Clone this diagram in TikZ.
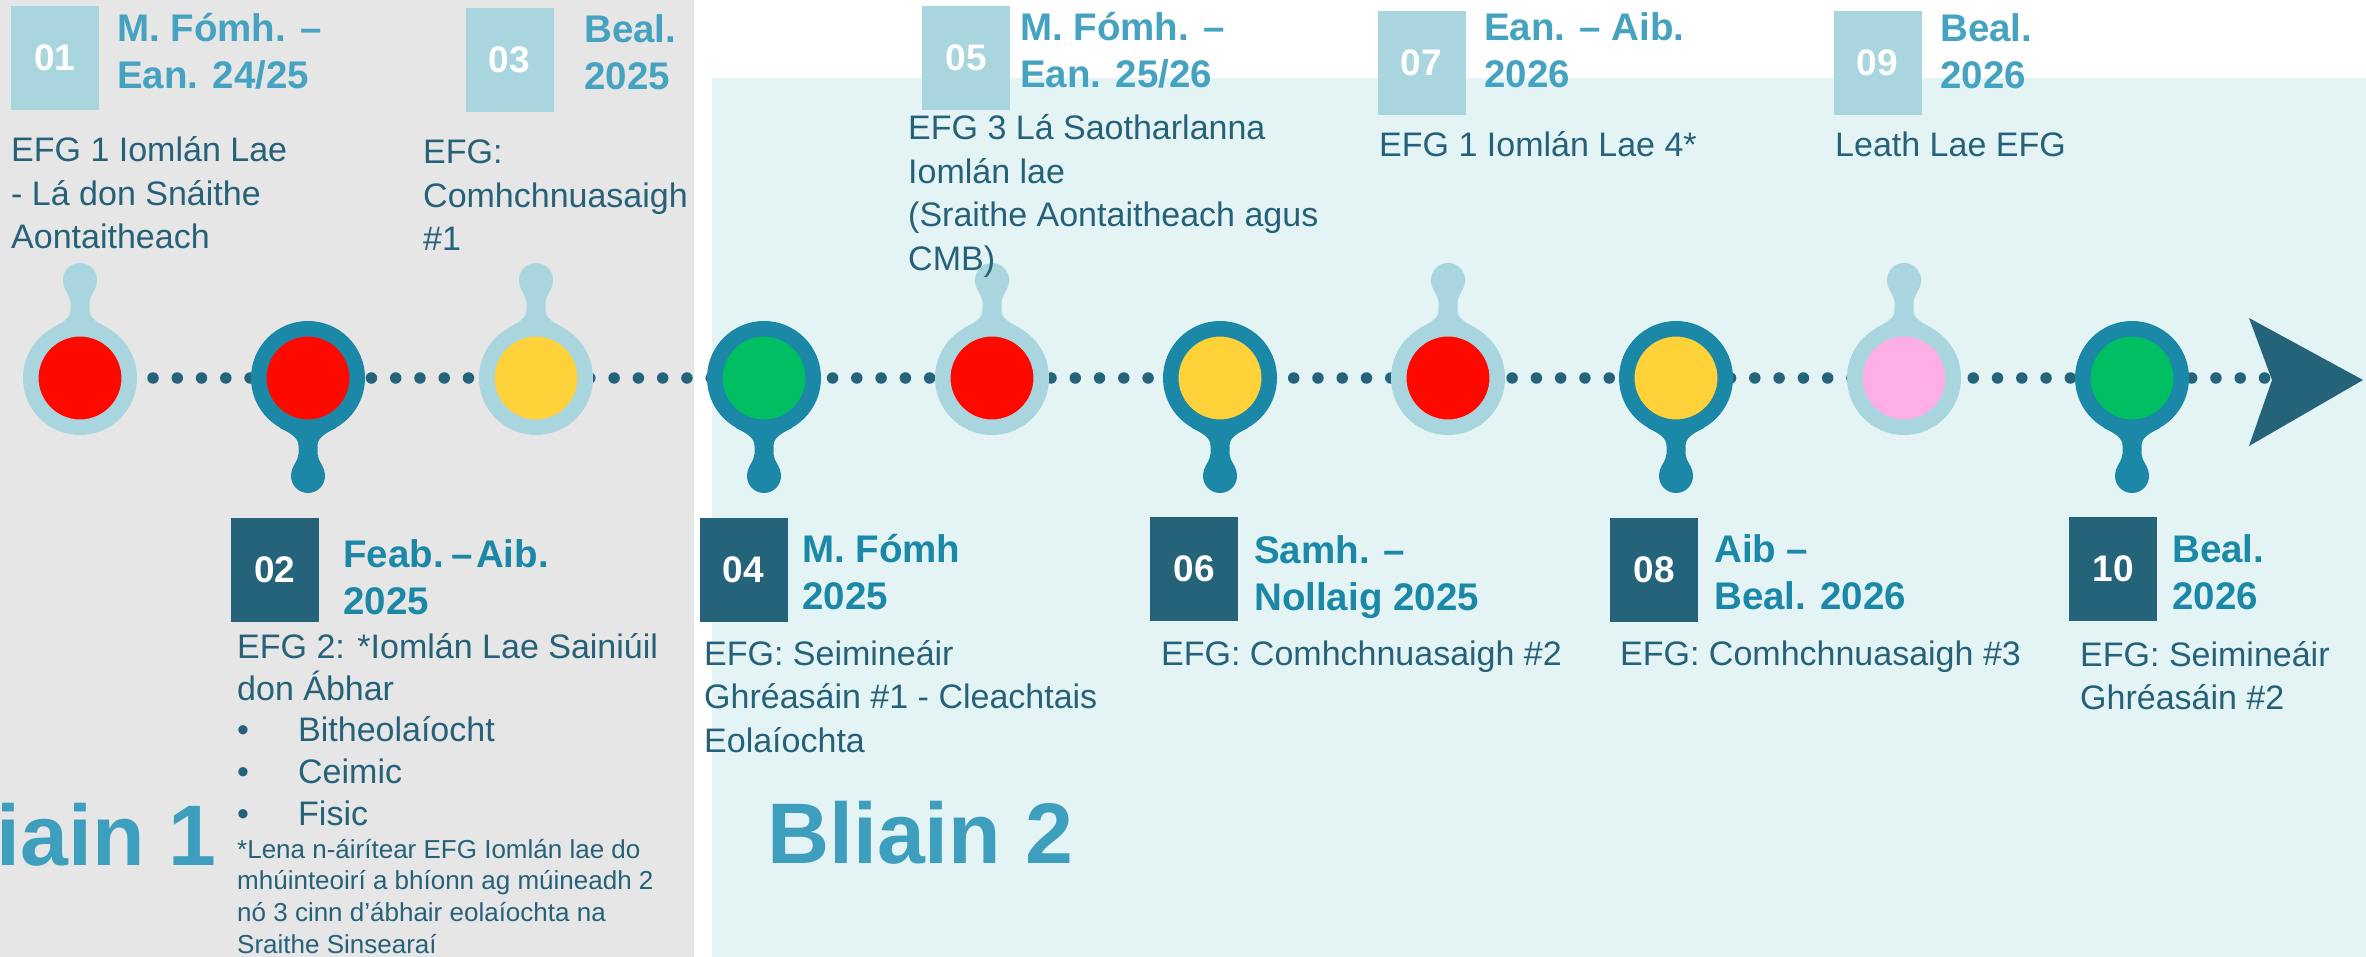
\documentclass[tikz,border=0pt]{standalone}
\usepackage{fontspec}
\setmainfont{Liberation Sans}
\definecolor{graybg}{HTML}{E6E6E6}
\definecolor{tealbg}{HTML}{E4F4F5}
\definecolor{lightc}{HTML}{A8D5DE}
\definecolor{ringc}{HTML}{1B88A8}
\definecolor{navyc}{HTML}{24637A}
\definecolor{toptitle}{HTML}{45A2C0}
\definecolor{bodyc}{HTML}{26617A}
\definecolor{bigc}{HTML}{3E9EBD}
\definecolor{redc}{HTML}{FF0800}
\definecolor{yellowc}{HTML}{FFD23A}
\definecolor{greenc}{HTML}{00BF63}
\definecolor{pinkc}{HTML}{FDAEE4}
\newcommand{\ml}[1]{\begin{tabular}[t]{@{}l@{}}#1\end{tabular}}
\newcommand{\pinstem}[3]{\fill[#3,shift={(#1,378)},yscale=#2] (-28,50) .. controls (-16,56) and (-9.5,60) .. (-9.5,68) -- (-9.5,76) .. controls (-9.5,83) and (-17,88) .. (-17,98) arc[start angle=180,end angle=0,radius=17] .. controls (17,88) and (9.5,83) .. (9.5,76) -- (9.5,68) .. controls (9.5,60) and (16,56) .. (28,50) -- cycle;}
\tikzset{
 pinnode/.style={circle, minimum size=98.5pt, inner sep=0pt, line width=15.5pt},
 numbox/.style={minimum width=88pt, minimum height=104pt, inner sep=0pt, text=white, font=\fontsize{37}{40}\selectfont\bfseries},
 lightbox/.style={numbox, fill=lightc},
 darkbox/.style={numbox, fill=navyc},
 ttl/.style={anchor=base west, inner sep=0pt, font=\fontsize{38.5}{47}\selectfont\bfseries},
 toptl/.style={ttl, text=toptitle},
 bottl/.style={ttl, text=ringc},
 body/.style={anchor=base west, inner sep=0pt, text=bodyc, font=\fontsize{34}{43.5}\selectfont},
 note/.style={anchor=base west, inner sep=0pt, text=bodyc, font=\fontsize{26}{31.7}\selectfont},
 big/.style={inner sep=0pt, text=bigc, font=\fontsize{86}{90}\selectfont\bfseries},
 dotline/.style={navyc, line width=11.5pt, line cap=round, dash pattern=on 0pt off 24.27pt},
}
\begin{document}
\begin{tikzpicture}[x=1pt,y=-1pt]
\useasboundingbox (0,0) rectangle (2366,957);
% backgrounds
\fill[white] (0,0) rectangle (2366,957);
\fill[graybg] (0,0) rectangle (694,957);
\fill[tealbg] (712,78) rectangle (2366,957);
% big year labels
\begin{scope}
\clip (0,0) rectangle (2366,957);
\node[big, anchor=base east] (y1) at (217,865) {Bliain 1};
\end{scope}
\node[big, anchor=base west] (y2) at (767,863) {Bliain 2};
% dotted timeline
\coordinate (dstart) at (153,378);
\coordinate (dend) at (2265,378);
\draw[dotline] (dstart) -- (dend);
\fill[navyc] (2249,318) -- (2363,380) -- (2249,446) -- (2272,380) -- cycle;
% stems
\pinstem{80}{-1}{lightc}
\pinstem{308}{1}{ringc}
\pinstem{536}{-1}{lightc}
\pinstem{764}{1}{ringc}
\pinstem{992}{-1}{lightc}
\pinstem{1220}{1}{ringc}
\pinstem{1448}{-1}{lightc}
\pinstem{1676}{1}{ringc}
\pinstem{1904}{-1}{lightc}
\pinstem{2132}{1}{ringc}
% circles
\node[pinnode, draw=lightc, fill=redc] (c1) at (80,378) {};
\node[pinnode, draw=ringc, fill=redc] (c2) at (308,378) {};
\node[pinnode, draw=lightc, fill=yellowc] (c3) at (536,378) {};
\node[pinnode, draw=ringc, fill=greenc] (c4) at (764,378) {};
\node[pinnode, draw=lightc, fill=redc] (c5) at (992,378) {};
\node[pinnode, draw=ringc, fill=yellowc] (c6) at (1220,378) {};
\node[pinnode, draw=lightc, fill=redc] (c7) at (1448,378) {};
\node[pinnode, draw=ringc, fill=yellowc] (c8) at (1676,378) {};
\node[pinnode, draw=lightc, fill=pinkc] (c9) at (1904,378) {};
\node[pinnode, draw=ringc, fill=greenc] (c10) at (2132,378) {};
% number boxes
\node[lightbox] (b1) at (55,58) {01};
\node[lightbox] (b3) at (509.5,60) {03};
\node[lightbox] (b5) at (966,58) {05};
\node[lightbox] (b7) at (1421.5,63) {07};
\node[lightbox] (b9) at (1877.5,63) {09};
\node[darkbox] (b2) at (275,570) {02};
\node[darkbox] (b4) at (743.5,570) {04};
\node[darkbox] (b6) at (1194,569) {06};
\node[darkbox] (b8) at (1654,570) {08};
\node[darkbox] (b10) at (2113,569) {10};
% titles
\node[toptl] (t1) at (117,42) {\ml{M. Fómh. –\\Ean. 24/25}};
\node[toptl] (t3) at (584,43) {\ml{Beal.\\2025}};
\node[toptl] (t5) at (1020,41) {\ml{M. Fómh. –\\Ean. 25/26}};
\node[toptl] (t7) at (1484,41) {\ml{Ean. – Aib.\\2026}};
\node[toptl] (t9) at (1940,42) {\ml{Beal.\\2026}};
\node[bottl] (t2) at (343,567) {\ml{Feab.\hspace{8pt}–\hspace{3pt}Aib.\\2025}};
\node[bottl] (t4) at (802,562) {\ml{M. Fómh\\2025}};
\node[bottl] (t6) at (1254,563) {\ml{Samh. –\\Nollaig 2025}};
\node[bottl] (t8) at (1714,562) {\ml{Aib –\\Beal. 2026}};
\node[bottl] (t10) at (2172,562) {\ml{Beal.\\2026}};
% bodies
\node[body] (d1) at (11,162) {\ml{EFG 1 Iomlán Lae\\- Lá don Snáithe\\Aontaitheach}};
\node[body] (d3) at (423,164) {\ml{EFG:\\Comhchnuasaigh\\\#1}};
\node[body] (d5) at (908,140) {\ml{EFG 3 Lá Saotharlanna\\Iomlán lae\\(Sraithe Aontaitheach agus\\CMB)}};
\node[body] (d7) at (1379,157) {EFG 1 Iomlán Lae 4*};
\node[body] (d9) at (1835,157) {Leath Lae EFG};
\node[body, font=\fontsize{34}{41.75}\selectfont] (d2) at (237,658) {\ml{EFG 2: *Iomlán Lae Sainiúil\\don Ábhar\\\makebox[61pt][l]{•}Bitheolaíocht\\\makebox[61pt][l]{•}Ceimic\\\makebox[61pt][l]{•}Fisic}};
\node[note] (n2) at (237,858) {\ml{*Lena n-áirítear EFG Iomlán lae do\\mhúinteoirí a bhíonn ag múineadh 2\\nó 3 cinn d’ábhair eolaíochta na\\Sraithe Sinsearaí}};
\node[body] (d4) at (704,665) {\ml{EFG: Seimineáir\\Ghréasáin \#1 - Cleachtais\\Eolaíochta}};
\node[body] (d6) at (1161,665) {EFG: Comhchnuasaigh \#2};
\node[body] (d8) at (1620,665) {EFG: Comhchnuasaigh \#3};
\node[body] (d10) at (2080,666) {\ml{EFG: Seimineáir\\Ghréasáin \#2}};
\end{tikzpicture}
\end{document}
